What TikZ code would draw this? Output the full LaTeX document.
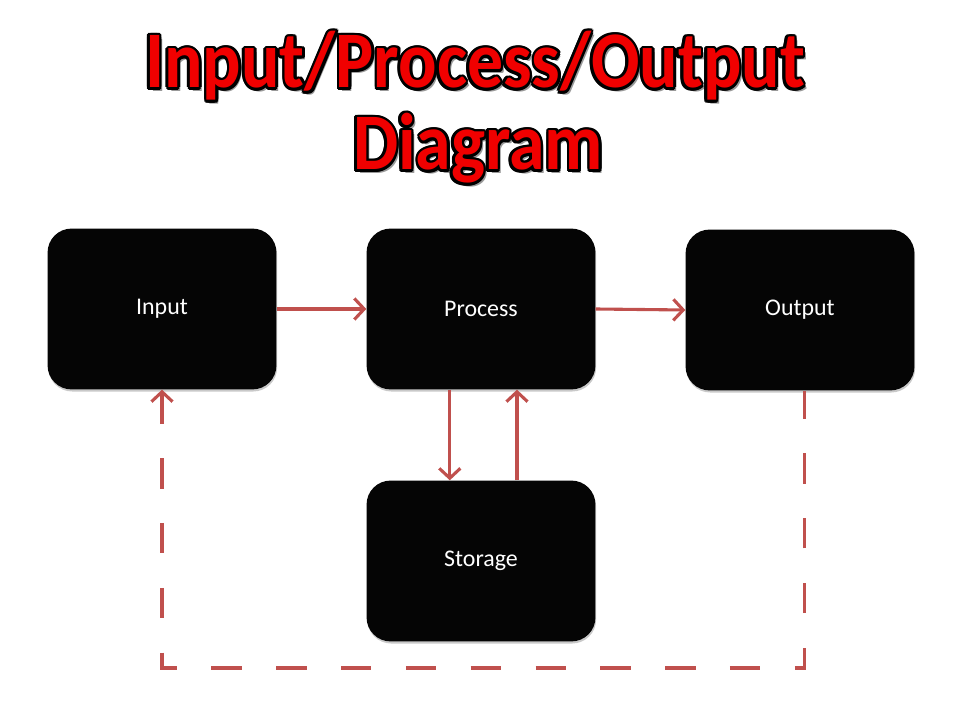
\documentclass[tikz,border=0pt]{standalone}
\usepackage{fontspec}
\setmainfont{Carlito}
\usetikzlibrary{positioning,arrows.meta,shadows,calc}

\definecolor{flowred}{HTML}{C0504D}
\definecolor{titlered}{HTML}{F00000}
\definecolor{boxblack}{HTML}{050505}

\tikzset{
  stagebox/.style={draw=none, fill=boxblack, rounded corners=0.6cm,
    minimum width=5.72cm, minimum height=4.02cm, inner sep=0pt,
    text=white, font=\fontsize{17}{20}\selectfont,
    drop shadow={shadow xshift=0.5pt, shadow yshift=-1.5pt, fill=black!35, opacity=0.6}},
  flow/.style={draw=flowred, line width=2.2pt, -{Straight Barb[length=7pt,width=15pt,line width=2.2pt]}},
  loopflow/.style={draw=flowred, line width=2.2pt, {Straight Barb[length=7pt,width=15pt,line width=2.2pt]}-,
    dash pattern=on 0.76cm off 0.86cm},
  titlefont/.style={font=\fontsize{51}{60}\bfseries\selectfont, inner sep=0pt, anchor=base, yscale=1.12}
}

\begin{document}
\begin{tikzpicture}[x=0.025cm, y=-0.025cm]
    \useasboundingbox[fill=white] (0,0) rectangle (960,720);

    % Title: shadow, black outline, red fill
    \foreach \line/\xpos/\ypos/\txt in {1/475/88/Input\slash Process\slash Output, 2/478/170/Diagram} {
        \node[titlefont, text=black!40] (shadow\line) at (\xpos+3,\ypos+4) {\txt};
        \foreach \ang in {0,30,...,330}
            \node[titlefont, text=black] (outline\line-\ang) at ($(\xpos,\ypos)+(\ang:1.9pt)$) {\txt};
        \node[titlefont, text=titlered] (title\line) at (\xpos,\ypos) {\txt};
    }

    % Stages
    \node[stagebox] (input)   at (162,309) {Input};
    \node[stagebox] (process) at (481,309) {Process};
    \node[stagebox] (output)  at (800,310) {Output};
    \node[stagebox] (storage) at (481,561) {Storage};

    % Main flow
    \draw[flow] (input.east) -- (process.west);
    \draw[flow] (process.east) -- (output.west);
    \draw[flow] ([xshift=-0.78cm]process.south) -- ([xshift=-0.78cm]storage.north); % save
    \draw[flow] ([xshift=0.9cm]storage.north) -- ([xshift=0.9cm]process.south);   % retrieve

    % Feedback loop (drawn from the arrow end so it starts on a dash)
    \coordinate (loopbase) at (480,668);
    \draw[loopflow] (input.south) |- (loopbase) -| ([xshift=0.12cm]output.south);
\end{tikzpicture}
\end{document}
